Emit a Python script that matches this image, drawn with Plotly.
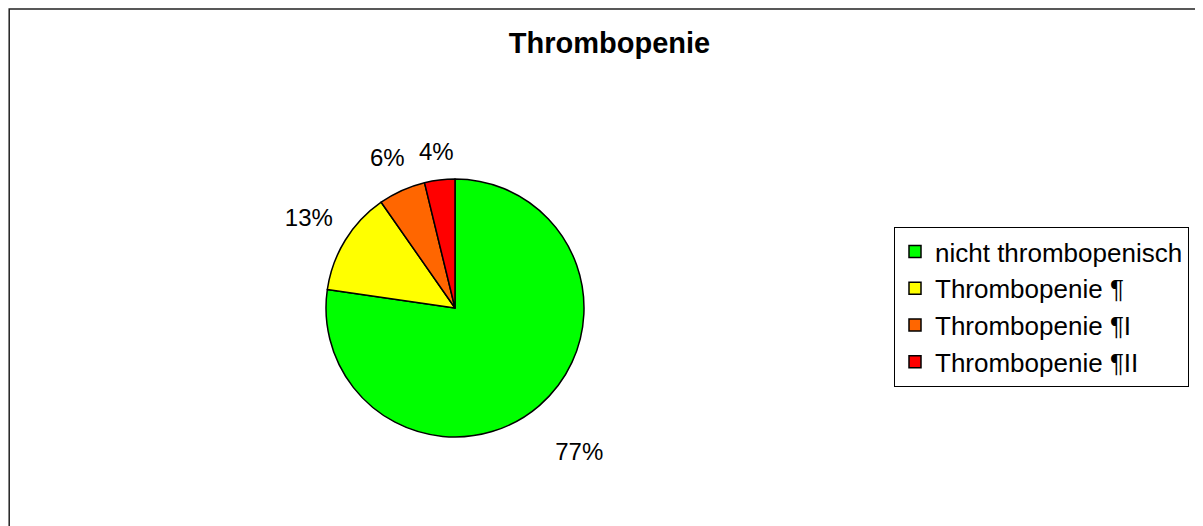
import plotly.graph_objects as go

# Chart data
categories = ["nicht thrombopenisch", "Thrombopenie ¶", "Thrombopenie ¶I", "Thrombopenie ¶II"]
shares = [77.3, 13.0, 5.9, 3.8]
slice_colors = ["#00FF00", "#FFFF00", "#FF6600", "#FF0000"]

FAMILY = "Liberation Sans, Arial"
W, H = 1203, 526

# pie centre / radius in paper pixels
CX, CY, R = 447, 226, 129
# invisible ring (outer radius, hole) carrying each slice's label
LABEL_RING = [(226, 0.68), (212, 0.62), (195, 0.62), (176, 0.62)]


def dom(r):
    return dict(x=[(CX - r) / W, (CX + r) / W], y=[(CY - r) / H, (CY + r) / H])


fig = go.Figure()

# the visible pie
fig.add_trace(
    go.Pie(
        labels=categories,
        values=shares,
        sort=False,
        direction="clockwise",
        rotation=0,
        marker=dict(colors=slice_colors, line=dict(color="black", width=1.5)),
        textinfo="none",
        hoverinfo="label+percent",
        domain=dom(R),
    )
)

# invisible rings, used only to place the percentage labels outside the pie
for i, (r, hole) in enumerate(LABEL_RING):
    tmpl = ["%{percent:.0%}" if j == i else "" for j in range(len(shares))]
    fig.add_trace(
        go.Pie(
            labels=categories,
            values=shares,
            sort=False,
            direction="clockwise",
            rotation=0,
            hole=hole,
            marker=dict(colors=["rgba(0,0,0,0)"] * len(shares), line=dict(width=0)),
            texttemplate=tmpl,
            textposition="inside",
            insidetextorientation="horizontal",
            textfont=dict(family=FAMILY, size=24, color="black"),
            hoverinfo="skip",
            showlegend=False,
            domain=dom(r),
        )
    )

fig.update_layout(
    width=W,
    height=H,
    margin=dict(l=0, r=0, t=0, b=0),
    paper_bgcolor="white",
    plot_bgcolor="white",
    font=dict(family=FAMILY, size=24, color="black"),
    uniformtext=dict(mode="show", minsize=24),
    title=dict(
        text="<b>Thrombopenie</b>",
        x=0.5,
        xanchor="center",
        y=1 - 35 / H,
        yanchor="middle",
        font=dict(family=FAMILY, size=29, color="black"),
    ),
    legend=dict(
        x=886 / W,
        y=1 - 219 / H,
        xanchor="left",
        yanchor="top",
        bordercolor="black",
        borderwidth=1,
        bgcolor="white",
        font=dict(family=FAMILY, size=26, color="black"),
    ),
    shapes=[
        dict(
            type="rect",
            xref="paper",
            yref="paper",
            x0=0.001,
            x1=1.02,
            y0=-0.05,
            y1=0.998,
            line=dict(color="#222222", width=1.5),
        )
    ],
)

fig.write_html("out.html")
